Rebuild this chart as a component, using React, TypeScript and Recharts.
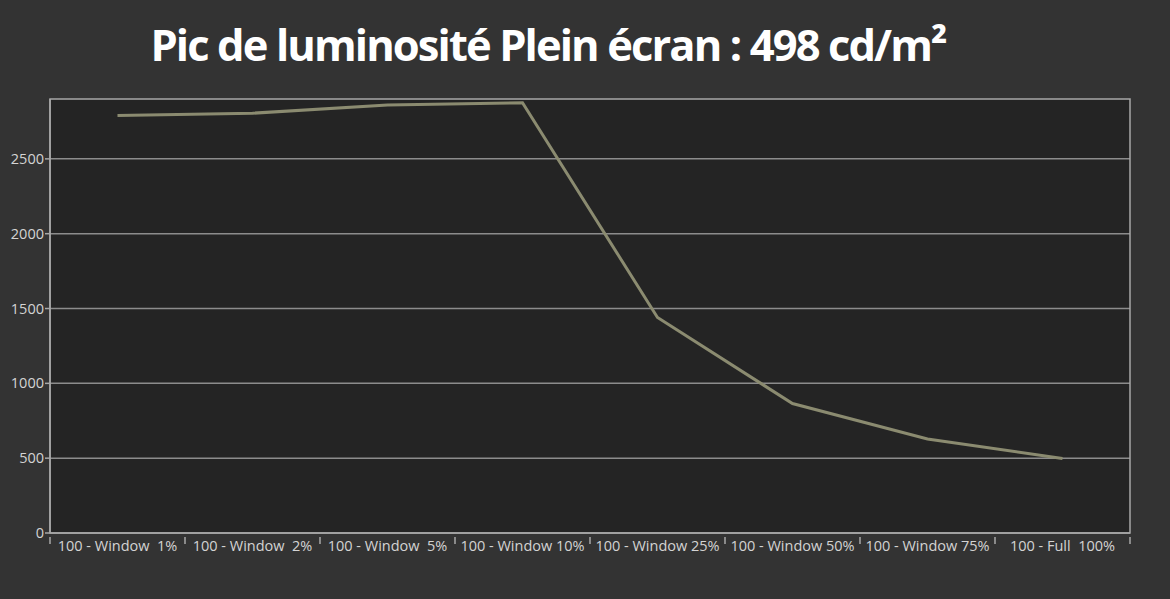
import React from "react";
import {
  LineChart,
  Line,
  XAxis,
  YAxis,
  CartesianGrid,
  ReferenceArea,
} from "recharts";

const categories = [
  "100 - Window  1%",
  "100 - Window  2%",
  "100 - Window  5%",
  "100 - Window 10%",
  "100 - Window 25%",
  "100 - Window 50%",
  "100 - Window 75%",
  "100 - Full  100%",
];
const luminance = [2790, 2805, 2860, 2875, 1440, 865, 628, 498];
const yTicks = [0, 500, 1000, 1500, 2000, 2500];
const yMax = 2900;

const data = categories.map((name, i) => ({ name, value: luminance[i] }));

const W = 1170;
const H = 599;
const PLOT_LEFT = 50;
const PLOT_RIGHT = 1130;
const BAND = (PLOT_RIGHT - PLOT_LEFT) / categories.length;

const AXIS = "#a8a8a8";
const LABEL = "#d4d4d4";

function XTick(props: any) {
  const { x, y, index } = props;
  const left = x - BAND / 2;
  return (
    <g>
      <line x1={left} y1={y - 4} x2={left} y2={y + 3} stroke={AXIS} strokeWidth={1.5} />
      {index === categories.length - 1 && (
        <line x1={x + BAND / 2} y1={y - 4} x2={x + BAND / 2} y2={y + 3} stroke={AXIS} strokeWidth={1.5} />
      )}
      <text
        x={x}
        y={y + 10}
        textAnchor="middle"
        fill={LABEL}
        fontSize={14.5}
        fontFamily="'Open Sans', sans-serif"
        style={{ whiteSpace: "pre" }}
      >
        {props.payload.value}
      </text>
    </g>
  );
}

export default function App() {
  return (
    <div
      style={{
        position: "fixed",
        left: 0,
        top: 0,
        width: W,
        height: H,
        background: "#333333",
        overflow: "hidden",
      }}
    >
      <div
        style={{
          position: "absolute",
          left: 0,
          top: 15,
          width: 1096,
          textAlign: "center",
          color: "#ffffff",
          fontFamily: "'Open Sans', sans-serif",
          fontWeight: 700,
          fontSize: 43.5,
          letterSpacing: -1.9,
          lineHeight: "60px",
        }}
      >
        Pic de luminosité Plein écran : 498 cd/m²
      </div>
      <LineChart
        width={W}
        height={H}
        data={data}
        margin={{ top: 99, right: W - PLOT_RIGHT, bottom: 0, left: 0 }}
      >
        <CartesianGrid
          vertical={false}
          fill="#242424"
          stroke="#8c8c8c"
          strokeWidth={1.5}
          horizontalValues={yTicks.slice(1)}
        />
        <ReferenceArea y1={0} y2={yMax} fill="none" stroke={AXIS} strokeWidth={1.5} />
        <XAxis
          dataKey="name"
          scale="band"
          height={H - 533}
          interval={0}
          tickLine={false}
          axisLine={{ stroke: AXIS, strokeWidth: 1.5 }}
          tick={<XTick />}
        />
        <YAxis
          width={PLOT_LEFT}
          domain={[0, yMax]}
          ticks={yTicks}
          tickSize={5}
          tickLine={{ stroke: AXIS, strokeWidth: 1.5 }}
          axisLine={{ stroke: AXIS, strokeWidth: 1.5 }}
          tick={{ fill: LABEL, fontSize: 14.5, fontFamily: "'Open Sans', sans-serif" }}
          tickMargin={1}
        />
        <Line
          type="linear"
          dataKey="value"
          stroke="#8b8b70"
          strokeWidth={3}
          dot={false}
          isAnimationActive={false}
        />
      </LineChart>
    </div>
  );
}
